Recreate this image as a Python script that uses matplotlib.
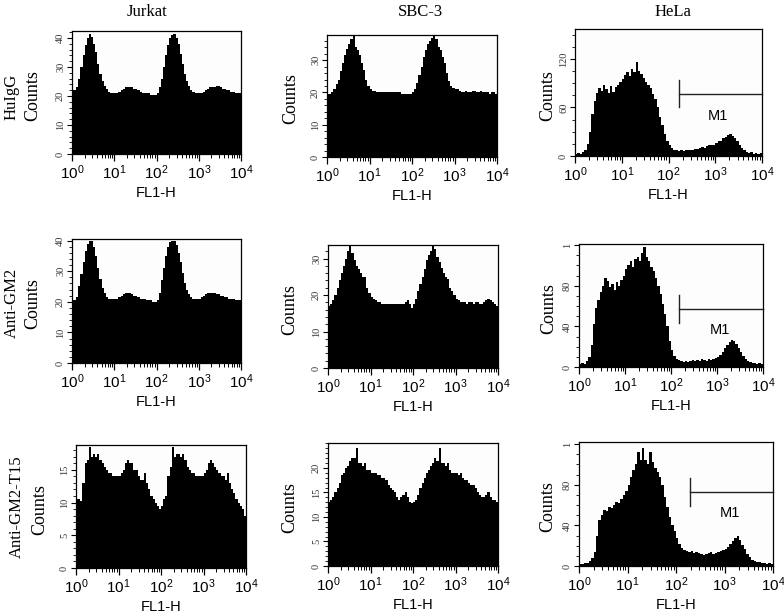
import numpy as np
import matplotlib
matplotlib.use("Agg")
import matplotlib.pyplot as plt
from matplotlib.ticker import AutoMinorLocator, FixedLocator, LogLocator, NullFormatter

# ---------------- data ----------------
# log10 bin edges of FL1-H channel (10^0 .. 10^4), 80 bins
log_edges = np.arange(0, 81) * 0.05

columns = ["Jurkat", "SBC-3", "HeLa"]
rows = ["HuIgG", "Anti-GM2", "Anti-GM2-T15"]

jurkat_huigg = [22, 22, 23, 26, 30, 34, 37.5, 40, 41.5, 40.5, 38, 35, 31, 27.5, 25, 23.5, 22.5, 21.5, 21, 21,
                21, 21, 21.5, 22, 22.5, 23, 23, 23, 23, 22.5, 22.5, 22, 21.5, 21, 21, 21, 21, 20.5, 20.5, 20.5,
                21, 23, 26, 30, 34, 37.5, 40, 41, 41.5, 40, 38, 34.5, 31, 27.5, 25, 23.5, 22, 21.5, 21, 21,
                21, 21, 21.5, 22, 22.5, 23, 23, 23, 23.5, 23.5, 23, 22.5, 22.5, 22, 22, 21.5, 21.5, 21, 21, 21]
sbc3_huigg = [19.5, 19.5, 20, 21, 22.5, 24, 26.5, 29, 31.5, 33.5, 35, 36.5, 37.5, 34, 33, 31.5, 29, 27, 24, 22,
              21, 20.5, 20.5, 20, 20, 20, 20, 20, 20, 20, 20, 20, 20, 20, 20, 19.5, 19.5, 19.5, 19.5, 19.5,
              20, 21, 23, 25.5, 28, 31, 33, 35, 36, 37, 37.5, 36.5, 34, 33, 31, 29, 26, 23.5, 22, 21.5,
              21, 21, 20.5, 20, 20, 20.5, 20, 20, 20.5, 20.5, 20, 20, 20.5, 20, 20, 20, 19.5, 20, 20, 19.5]
hela_huigg = [3, 4, 3, 5, 8, 15, 30, 52, 68, 78, 84, 80, 88, 83, 78, 86, 79, 85, 88, 92,
              95, 100, 104, 99, 108, 104, 116, 105, 101, 96, 92, 88, 84, 77, 70, 60, 48, 38, 27, 18,
              13, 10, 8, 7, 6, 7, 6, 7, 8, 7, 8, 9, 9, 10, 11, 10, 12, 13, 14, 14,
              16, 18, 19, 22, 24, 26, 27, 25, 22, 18, 14, 10, 7, 5, 4, 5, 3, 4, 3, 4]

jurkat_gm2 = [20.5, 20.5, 21.5, 25, 29, 33, 36.5, 39, 40, 40, 38, 35, 31, 27.5, 24.5, 23, 21.5, 21, 21, 21,
              21, 21, 21.5, 22, 22.5, 23, 23, 23, 22.5, 22, 22, 21.5, 21, 21, 21, 20.5, 20.5, 20.5, 20, 20,
              20.5, 23, 27, 31, 35, 38, 39.5, 40, 40, 38.5, 36, 33, 29.5, 26, 24, 22.5, 21.5, 21, 21, 21,
              21, 21.5, 22, 22.5, 23, 23, 23, 23, 22.5, 22.5, 22, 22, 21.5, 21.5, 21, 21, 21, 20.5, 20.5, 20.5]
sbc3_gm2 = [17, 17.5, 18.5, 20, 22, 24, 26, 28, 30, 32, 33.5, 31.5, 29.5, 28, 27, 26, 25, 25, 22, 20.5,
            19.5, 19, 18.5, 18, 18, 17.5, 17.5, 17.5, 17.5, 17.5, 17.5, 17.5, 17.5, 17.5, 17.5, 17.5, 18, 18.5, 17.5, 16.5,
            17.5, 19, 21, 23, 25, 27, 29.5, 31, 32, 33.5, 32.5, 30.5, 29, 27.5, 26, 25, 24.5, 22, 21, 20,
            19, 18.5, 18, 18, 18, 17.5, 18, 18, 17.5, 18, 18, 17.5, 17.5, 18, 18.5, 19, 18.5, 18, 17.5, 17]
hela_gm2 = [3, 4, 3, 6, 10, 22, 42, 58, 66, 74, 80, 88, 85, 79, 82, 76, 84, 80, 86, 90,
            96, 100, 104, 98, 106, 108, 104, 112, 118, 108, 104, 98, 94, 88, 80, 72, 62, 52, 40, 26,
            17, 11, 8, 7, 6, 5, 6, 5, 6, 7, 6, 7, 6, 8, 7, 6, 8, 7, 8, 9,
            10, 12, 15, 19, 22, 25, 27, 26, 23, 19, 15, 11, 8, 6, 5, 4, 4, 3, 4, 3]

jurkat_t15 = [10.5, 10.5, 10.2, 13, 16, 16.5, 18.5, 17, 17.5, 17, 17.5, 16.5, 16, 15.5, 15, 14.5, 14.5, 14, 14, 14,
              14, 14.5, 15, 16, 16.5, 16, 16, 15, 15, 14, 13.5, 13.5, 14.5, 13, 12, 11, 10.5, 10, 9.5, 9,
              9.5, 10.5, 11, 14, 15.5, 18.5, 17, 17.5, 17.5, 17, 17.5, 16.5, 15.5, 15, 14.5, 14.5, 14, 14, 14, 14,
              14.5, 15, 16, 16.5, 16, 15.5, 15, 14.5, 14, 14, 13.5, 14.5, 13, 12, 11.5, 10.5, 10, 9.5, 9, 8]
sbc3_t15 = [13, 13.5, 14, 15, 16, 17, 18.5, 19, 20, 20.5, 21.5, 22, 22, 24, 21, 21, 20.5, 21, 19.5, 19.5,
            19, 19, 19, 18.5, 18.5, 18, 18, 17.5, 16.5, 16, 15.5, 15, 14, 13.5, 14, 14.5, 15, 14, 13, 12.8,
            13, 13.5, 14.5, 16, 17, 18, 19, 19.5, 20.5, 21, 22, 21.5, 24, 21, 21, 20.5, 21, 19.5, 19, 19,
            19, 18.5, 19, 18, 17.5, 17.5, 17, 16.5, 16.5, 16, 15, 14.5, 14, 14, 14.5, 15, 14, 13.5, 13.5, 13]
hela_t15 = [2, 2, 3, 3, 5, 8, 14, 30, 45, 50, 55, 54, 58, 57, 60, 63, 62, 66, 70, 74,
            80, 88, 94, 100, 112, 104, 116, 104, 100, 112, 102, 96, 92, 88, 80, 68, 58, 48, 40, 34,
            28, 22, 18, 16, 15, 14, 15, 13, 14, 13, 12, 11, 12, 13, 14, 12, 13, 14, 15, 16,
            17, 19, 22, 25, 28, 30, 26, 21, 17, 12, 9, 6, 5, 4, 4, 3, 3, 2, 3, 2]

panel_data = [[jurkat_huigg, sbc3_huigg, hela_huigg],
              [jurkat_gm2, sbc3_gm2, hela_gm2],
              [jurkat_t15, sbc3_t15, hela_t15]]

# y-axis limits and ticks
ylims = [[42.4, 37.8, 157], [40.5, 33.7, 121], [18.8, 25.1, 122]]
yticks = [[[0, 10, 20, 30, 40], [0, 10, 20, 30], [0, 60, 120]],
          [[0, 10, 20, 30, 40], [0, 10, 20, 30], [0, 40, 80, 120]],
          [[0, 5, 10, 15], [0, 5, 10, 15, 20], [0, 40, 80, 120]]]
ytick_labels = [[["0", "10", "20", "30", "40"], ["0", "10", "20", "30"], ["0", "60", "120"]],
                [["0", "10", "20", "30", "40"], ["0", "10", "20", "30"], ["0", "40", "80", "1"]],
                [["0", "5", "10", "15"], ["0", "5", "10", "15", "20"], ["0", "40", "80", "1"]]]

# M1 gate markers for HeLa panels
m1_start = [166, 148, 195]
m1_y = [77, 57, 73]
m1_half = [16.5, 13.5, 13.5]
m1_label_x = [1150, 1180, 1320]
m1_label_y = [49, 36, 52]

# axes boxes in pixels (left, top, right, bottom)
boxes = [[(72, 31, 241, 154), (327, 35, 497, 157), (575, 29, 762, 156)],
         [(72, 239, 241, 363), (328, 245, 498, 368), (579, 244, 763, 367)],
         [(76, 445, 246, 568), (328, 443, 498, 566), (579, 442, 773, 566)]]

W, H = 784, 616
SERIF = ["Liberation Serif", "DejaVu Serif"]
SANS = ["Liberation Sans", "DejaVu Sans"]
plt.rcParams["mathtext.fontset"] = "custom"
plt.rcParams["mathtext.rm"] = "Liberation Sans"
plt.rcParams["mathtext.it"] = "Liberation Sans:italic"
plt.rcParams["mathtext.bf"] = "Liberation Sans:bold"

fig = plt.figure(figsize=(W / 100, H / 100), dpi=100)
fig.patch.set_facecolor("white")

edges = 10 ** log_edges

for r in range(3):
    for c in range(3):
        l, t, rr, b = boxes[r][c]
        ax = fig.add_axes([l / W, 1 - b / H, (rr - l) / W, (b - t) / H])
        ax.stairs(panel_data[r][c], edges, fill=True, color="black", linewidth=0)
        ax.set_xscale("log")
        ax.set_xlim(1, 1e4)
        ax.set_ylim(0, ylims[r][c])
        ax.set_facecolor("#fdfdfd")
        for sp in ax.spines.values():
            sp.set_linewidth(0.9)
            sp.set_color("black")
        ax.xaxis.set_major_locator(FixedLocator([1, 10, 100, 1000, 10000]))
        ax.set_xticklabels([r"$10^{0}$", r"$10^{1}$", r"$10^{2}$", r"$10^{3}$", r"$10^{4}$"],
                           fontsize=11)
        ax.xaxis.set_minor_locator(LogLocator(base=10, subs=np.arange(2, 10), numticks=20))
        ax.xaxis.set_minor_formatter(NullFormatter())
        ax.tick_params(axis="x", which="major", direction="out", length=5, width=0.9, pad=2)
        ax.tick_params(axis="x", which="minor", direction="out", length=3, width=0.7)
        ax.set_yticks(yticks[r][c])
        ax.set_yticklabels(ytick_labels[r][c], rotation=90, va="center",
                           fontsize=7.5, family=SERIF, color="#333333")
        ax.yaxis.set_minor_locator(AutoMinorLocator(5 if c < 2 else 4))
        ax.tick_params(axis="y", which="major", direction="out", length=3.5, width=0.8, pad=1.5)
        ax.tick_params(axis="y", which="minor", direction="out", length=2.5, width=0.6)
        ax.set_xlabel("FL1-H", family=SANS, fontsize=10.5, labelpad=3)
        if c == 2:
            ax.plot([m1_start[r], 1e4], [m1_y[r], m1_y[r]], color="#222222", lw=1.0, clip_on=False)
            ax.plot([m1_start[r], m1_start[r]], [m1_y[r] - m1_half[r], m1_y[r] + m1_half[r]],
                    color="#222222", lw=1.0)
            ax.text(m1_label_x[r], m1_label_y[r], "M1", family=SANS, fontsize=10.5,
                    ha="center", va="center")

# y labels "Counts"
counts_x = [[33, 291, 548], [33, 290, 549], [40, 290, 548]]
for r in range(3):
    for c in range(3):
        l, t, rr, b = boxes[r][c]
        fig.text(counts_x[r][c] / W, 1 - ((t + b) / 2 + 3) / H, "Counts", rotation=90,
                 family=SERIF, fontsize=13, ha="center", va="center")

# row labels
row_x = [12, 12, 17]
row_y = [97, 303, 507]
for r in range(3):
    fig.text(row_x[r] / W, 1 - row_y[r] / H, rows[r], rotation=90, family=SERIF,
             fontsize=12, ha="center", va="center")

# column titles
col_x = [147, 420, 673]
for c in range(3):
    fig.text(col_x[c] / W, 1 - 12 / H, columns[c], family=SERIF, fontsize=12,
             ha="center", va="center")

fig.savefig("out.png", dpi=100, facecolor="white")
